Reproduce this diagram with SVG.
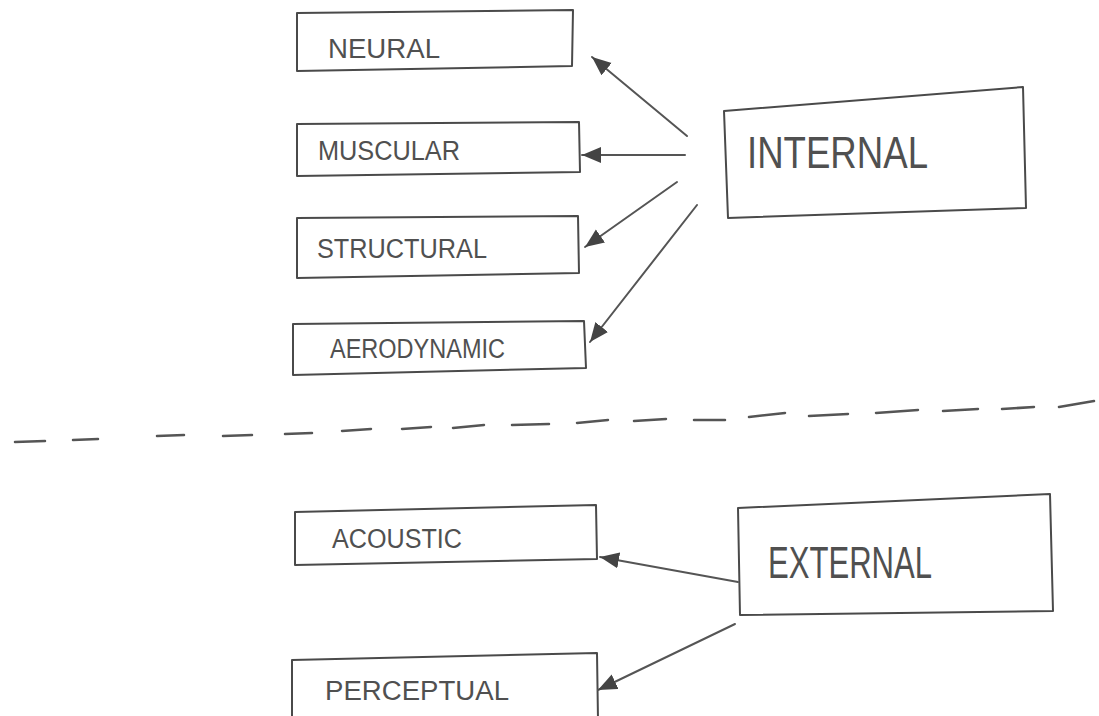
<svg xmlns="http://www.w3.org/2000/svg" width="1099" height="716" viewBox="0 0 1099 716">
<style>
.box{fill:none;stroke:#4a4a4a;stroke-width:2;stroke-linejoin:round}
.lbl{font-family:"Liberation Sans",Arial,sans-serif;font-size:27px;fill:#505050}
.big{font-family:"Liberation Sans",Arial,sans-serif;font-size:45px;fill:#505050}
.con{fill:none;stroke:#555;stroke-width:2;stroke-linecap:round}
.dash{fill:none;stroke:#555;stroke-width:2.5;stroke-linecap:round}
</style>
<defs>
<marker id="ah" markerUnits="userSpaceOnUse" markerWidth="22" markerHeight="18" refX="19" refY="8" orient="auto">
<path d="M0,0 L19,8 L0,16 Z" fill="#444"/>
</marker>
</defs>
<rect width="1099" height="716" fill="#fff"/>
<g id="neural"><polygon class="box" points="297,13 573,10 572,66 297,71"/><text class="lbl" x="328" y="58" textLength="112" lengthAdjust="spacingAndGlyphs">NEURAL</text></g>
<g id="muscular"><polygon class="box" points="297,124 579,122 580,172 297,176"/><text class="lbl" x="318" y="160" textLength="142" lengthAdjust="spacingAndGlyphs">MUSCULAR</text></g>
<g id="structural"><polygon class="box" points="297,218 578,216 579,273 297,278"/><text class="lbl" x="317" y="258" textLength="170" lengthAdjust="spacingAndGlyphs">STRUCTURAL</text></g>
<g id="aerodynamic"><polygon class="box" points="293,324 584,321 586,368 293,375"/><text class="lbl" x="330" y="358" textLength="175" lengthAdjust="spacingAndGlyphs">AERODYNAMIC</text></g>
<g id="internal"><polygon class="box" points="724,111 1023,87 1026,208 728,218"/><text class="big" x="747" y="168" textLength="181" lengthAdjust="spacingAndGlyphs">INTERNAL</text></g>
<g id="acoustic"><polygon class="box" points="295,512 596,505 597,559 295,565"/><text class="lbl" x="332" y="548" textLength="130" lengthAdjust="spacingAndGlyphs">ACOUSTIC</text></g>
<g id="external"><polygon class="box" points="738,508 1050,494 1053,611 740,615"/><text class="big" x="768" y="578" textLength="164" lengthAdjust="spacingAndGlyphs">EXTERNAL</text></g>
<g id="perceptual"><polygon class="box" points="292,660 597,653 598,720 292,720"/><text class="lbl" x="325" y="700" textLength="184" lengthAdjust="spacingAndGlyphs">PERCEPTUAL</text></g>
<g id="connectors">
<line class="con" x1="687" y1="136" x2="592" y2="57" marker-end="url(#ah)"/>
<line class="con" x1="685" y1="155" x2="582" y2="155" marker-end="url(#ah)"/>
<line class="con" x1="677" y1="182" x2="585" y2="247" marker-end="url(#ah)"/>
<line class="con" x1="697" y1="205" x2="590" y2="342" marker-end="url(#ah)"/>
<line class="con" x1="738" y1="582" x2="600" y2="557" marker-end="url(#ah)"/>
<line class="con" x1="735" y1="624" x2="598" y2="690" marker-end="url(#ah)"/>
</g>
<g id="divider">
<path class="dash" d="M15,442 L45,441 M73,440 L98,439 M157,436 L184,435 M223,436 L252,435 M285,434 L312,433 M342,431 L371,429 M402,429 L431,427 M453,428 L484,425 M512,425 L549,424 M577,423 L608,420 M634,421 L666,419 M694,420 L725,420 M749,417 L785,413 M809,416 L848,414 M876,413 L918,410 M943,411 L978,409 M1002,409 L1034,407 M1059,407 L1094,401"/>
</g>
</svg>
